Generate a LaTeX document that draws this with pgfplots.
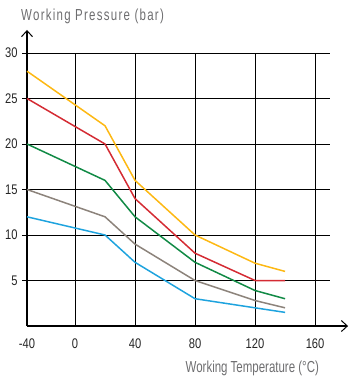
\documentclass[border=0pt]{standalone}
\usepackage{pgfplots}
\pgfplotsset{compat=1.18}
\usepackage{fontspec}
\setmainfont{Liberation Sans}[FakeStretch=0.8]
\newfontfamily\tickfont{Liberation Sans}[FakeStretch=0.8]
\newfontfamily\labfont{Liberation Sans}[FakeStretch=0.72]
\newfontfamily\titfont{Liberation Sans}[FakeStretch=0.72, LetterSpace=8]
\usetikzlibrary{arrows.meta}
\definecolor{cyel}{HTML}{FDB813}
\definecolor{cred}{HTML}{D42B33}
\definecolor{cgrn}{HTML}{118A45}
\definecolor{cgry}{HTML}{8C837B}
\definecolor{cblu}{HTML}{1EA3DE}
\definecolor{ctxt}{HTML}{6E6E70}
\begin{document}
\begin{tikzpicture}
\begin{axis}[
  scale only axis, width=303bp, height=273bp,
  xmin=-32, xmax=170, ymin=0, ymax=30,
  axis lines=left,
  axis line style={line width=1.6pt, black},
  x axis line style={-{Straight Barb[length=6bp,width=11bp,line width=1pt]}, shorten >=-18bp},
  y axis line style={-{Straight Barb[length=6bp,width=11bp,line width=1pt]}, shorten >=-23bp},
  xtick={-32,0,40,80,120,160},
  xticklabels={-40,0,40,80,120,160},
  ytick={5,10,15,20,25,30},
  grid=major,
  major grid style={black, line width=0.7pt},
  ytick style={black, line width=0.7pt},
  xtick style={draw=none},
  tick align=outside,
  major tick length=5bp,
  /pgf/number format/assume math mode=true,
  ticklabel style={font=\tickfont\fontsize{14}{16}\selectfont, text=black!85},
  xticklabel style={yshift=-4bp},
  yticklabel style={xshift=-1bp},
  clip=false,
  every axis plot/.append style={line width=1.5pt, mark=none},
]
\addplot[cyel] coordinates {(-32,28) (20,22) (40,16) (80,10) (120,6.9) (140,6)};
\addplot[cred] coordinates {(-32,25) (20,20) (40,14) (80,8) (120,5) (140,5)};
\addplot[cgrn] coordinates {(-32,20) (20,16) (40,12) (80,7) (120,3.9) (140,3)};
\addplot[cgry] coordinates {(-32,15) (20,12) (40,9) (80,5) (120,2.8) (140,2)};
\addplot[cblu] coordinates {(-32,12) (20,10) (40,7) (80,3) (120,2) (140,1.5)};
\node[anchor=base west, text=ctxt, font=\titfont\fontsize{16}{18}\selectfont, inner sep=0pt] at (axis cs:-36,33.55) {Working Pressure (bar)};
\node[anchor=base east, text=ctxt, font=\labfont\fontsize{16}{18}\selectfont, inner sep=0pt] at (axis cs:162.7,-5.13) {Working Temperature (°C)};
\coordinate (BL) at (axis cs:-50,-5.49);
\coordinate (TR) at (axis cs:183.3,35.82);
\end{axis}
\pgfresetboundingbox
\path (BL) rectangle (TR);
\end{tikzpicture}
\end{document}
